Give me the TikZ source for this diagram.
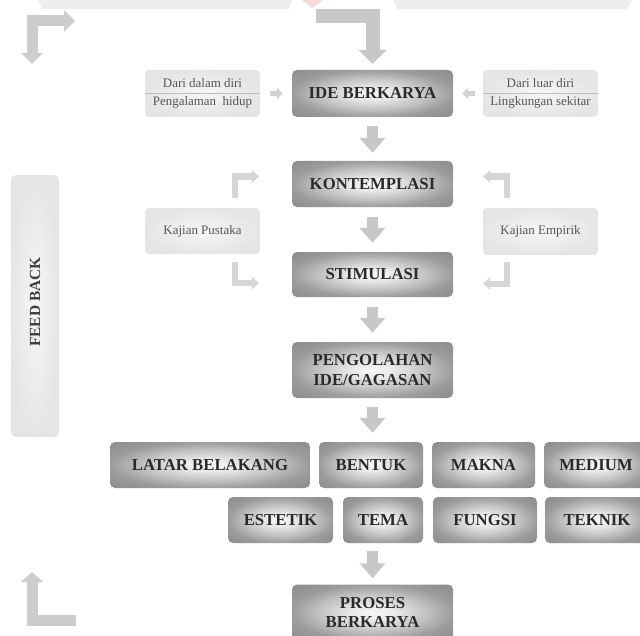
\documentclass[tikz,border=0pt]{standalone}
\usepackage{fontspec}
\setmainfont{Liberation Serif}
\usetikzlibrary{arrows.meta}
\definecolor{sh0}{HTML}{F7F7F7}
\definecolor{sh1}{HTML}{E8E8E8}
\definecolor{sh2}{HTML}{C0C0C0}
\definecolor{sh3}{HTML}{9C9C9C}
\definecolor{sh4}{HTML}{8A8A8A}
\definecolor{lt0}{HTML}{F6F6F6}
\definecolor{lt1}{HTML}{E5E5E5}
\definecolor{maintext}{HTML}{2A2A2A}
\definecolor{smalltextc}{HTML}{555555}
\definecolor{fbtext}{HTML}{3F3F3F}
\definecolor{arrgray}{HTML}{C8C8C8}
\definecolor{fbgray}{HTML}{CDCDCD}
\definecolor{kajgray}{HTML}{D6D6D6}
\definecolor{smallgray}{HTML}{D2D2D2}
\definecolor{sepgray}{HTML}{BDBDBD}
\definecolor{wmgray}{HTML}{EEEEEE}
\definecolor{wmpink}{HTML}{F6DADA}
\pgfdeclareradialshading{mainshade}{\pgfpointorigin}{color(0bp)=(sh0); color(7bp)=(sh1); color(17bp)=(sh2); color(25bp)=(sh3); color(36bp)=(sh4); color(50bp)=(sh4)}
\pgfdeclareradialshading{lightshade}{\pgfpointorigin}{color(0bp)=(lt0); color(25bp)=(lt1); color(50bp)=(lt1)}
\begin{document}
\begin{tikzpicture}[x=1bp,y=-1bp,
  mainbox/.style={shade, shading=mainshade, rounded corners=5bp, inner sep=0pt, minimum height=46bp, text=maintext, font=\fontsize{16.8}{20}\selectfont\bfseries, align=center},
  lightbox/.style={shade, shading=lightshade, rounded corners=4bp, inner sep=0pt, minimum width=115bp, text=smalltextc, font=\fontsize{13}{15}\selectfont},
  smalltext/.style={text=smalltextc, font=\fontsize{13}{15}\selectfont, inner sep=0pt, anchor=base},
  sepline/.style={draw=sepgray, line width=1.5bp},
  downarr/.style={draw=arrgray, line width=11bp, -{Triangle[length=15bp,width=25bp]}},
  toparr/.style={draw=arrgray, line width=14bp, line join=miter, -{Triangle[length=14bp,width=28bp]}},
  fbarr/.style={draw=fbgray, line width=11bp, line join=miter},
  kajarr/.style={draw=kajgray, line width=6bp, line join=miter, -{Triangle[length=7bp,width=12bp]}},
  smallarr/.style={draw=smallgray, line width=5bp, -{Triangle[length=6bp,width=11bp]}}
]
\useasboundingbox (0,0) rectangle (640,636);
% faint watermark traces
\fill[wmgray] (38,0) -- (292,0) -- (289,9) -- (42,9) -- cycle;
\fill[wmgray] (393,0) -- (632,0) -- (627,9) -- (397,9) -- cycle;
\fill[wmpink] (302,0) -- (323,0) -- (312,8) -- cycle;

% main column
\node[mainbox, minimum width=161bp, minimum height=47bp] (ide) at (372.5,93.5) {IDE BERKARYA};
\node[mainbox, minimum width=161bp] (kont) at (372.5,184) {KONTEMPLASI};
\node[mainbox, minimum width=161bp, minimum height=45bp] (stim) at (372.5,274.5) {STIMULASI};
\node[mainbox, minimum width=161bp, minimum height=56bp] (peng) at (372.5,370) {PENGOLAHAN\\IDE/GAGASAN};
\node[mainbox, minimum width=200bp] (latar) at (210,465) {LATAR BELAKANG};
\node[mainbox, minimum width=104bp] (bentuk) at (371,465) {BENTUK};
\node[mainbox, minimum width=103bp] (makna) at (483.5,465) {MAKNA};
\node[mainbox, minimum width=104bp] (medium) at (596,465) {MEDIUM};
\node[mainbox, minimum width=105bp] (estetik) at (280.5,520) {ESTETIK};
\node[mainbox, minimum width=80bp] (tema) at (383,520) {TEMA};
\node[mainbox, minimum width=104bp] (fungsi) at (485,520) {FUNGSI};
\node[mainbox, minimum width=104bp] (teknik) at (597,520) {TEKNIK};
\node[mainbox, minimum width=161bp, minimum height=56bp] (proses) at (372.5,612.5) {PROSES\\BERKARYA};

% side boxes
\node[lightbox, minimum height=47bp] (dalam) at (202.5,93.5) {};
\draw[sepline] (dalam.west) -- (dalam.east);
\node[smalltext] (dalamA) at (202.5,87.5) {Dari dalam diri};
\node[smalltext] (dalamB) at (202.5,105.5) {Pengalaman\ \ hidup};
\node[lightbox, minimum height=47bp] (luar) at (540.5,93.5) {};
\draw[sepline] (luar.west) -- (luar.east);
\node[smalltext] (luarA) at (540.5,87.5) {Dari luar diri};
\node[smalltext] (luarB) at (540.5,105.5) {Lingkungan sekitar};
\node[lightbox, minimum height=46bp] (pustaka) at (202.5,231) {Kajian Pustaka};
\node[lightbox, minimum height=47bp] (empirik) at (540.5,231.5) {Kajian Empirik};

% feedback bar
\node[lightbox, minimum width=48bp, minimum height=262bp, rounded corners=5bp] (fb) at (35,306) {};
\node[rotate=90, inner sep=0pt, font=\fontsize{15.5}{18}\selectfont\bfseries, text=fbtext] (fbt) at (35,302) {FEED BACK};

% connectors
\draw[smallarr, shorten <=10bp, shorten >=9bp] (dalam) -- (ide);
\draw[smallarr, shorten <=8bp, shorten >=9bp] (luar) -- (ide);
\draw[downarr, shorten <=9bp, shorten >=8bp] (ide) -- (kont);
\draw[downarr, shorten <=10bp, shorten >=9bp] (kont) -- (stim);
\draw[downarr, shorten <=10bp, shorten >=9bp] (stim) -- (peng);
\draw[downarr, shorten <=9bp, shorten >=9bp] (peng.south) -- (peng.south |- bentuk.north);
\draw[downarr, shorten <=8bp, shorten >=6bp] (proses.north |- tema.south) -- (proses.north);

\coordinate (topin) at (316,16);
\draw[toparr, shorten >=6bp] (topin) -- (topin -| ide.north) -- (ide.north);

% kajian corner arrows
\coordinate (klA) at (235,198); \coordinate (klB) at (235,176.5); \coordinate (klC) at (259,176.5);
\draw[kajarr] (klA) -- (klB) -- (klC);
\coordinate (klD) at (235,262); \coordinate (klE) at (235,283); \coordinate (klF) at (259,283);
\draw[kajarr] (klD) -- (klE) -- (klF);
\coordinate (krA) at (507,198); \coordinate (krB) at (507,176.5); \coordinate (krC) at (483,176.5);
\draw[kajarr] (krA) -- (krB) -- (krC);
\coordinate (krD) at (507,262); \coordinate (krE) at (507,283.5); \coordinate (krF) at (483,283.5);
\draw[kajarr] (krD) -- (krE) -- (krF);

% feedback arrows
\coordinate (fbA) at (75,21); \coordinate (fbC) at (32,21); \coordinate (fbB) at (32,64);
\draw[fbarr, {Triangle[length=11bp,width=21bp]}-{Triangle[length=11bp,width=21bp]}] (fbA) -- (fbC) -- (fbB);
\coordinate (fbD) at (76,620.5); \coordinate (fbE) at (32,620.5); \coordinate (fbF) at (32,572);
\draw[fbarr, -{Triangle[length=10bp,width=22bp]}] (fbD) -- (fbE) -- (fbF);
\end{tikzpicture}
\end{document}
